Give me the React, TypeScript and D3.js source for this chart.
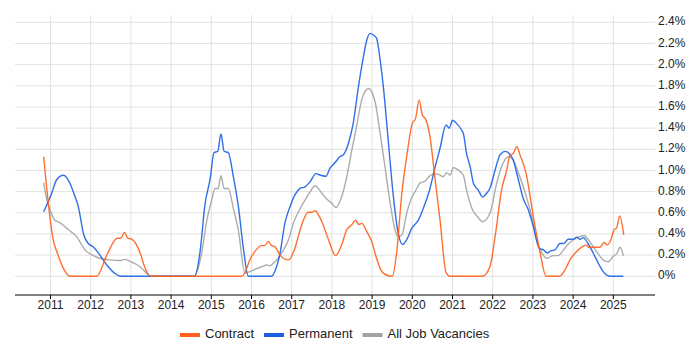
import { useEffect } from 'react';
import * as d3 from 'd3';

// tick labels
const yearTicks = [2011, 2012, 2013, 2014, 2015, 2016, 2017, 2018, 2019, 2020, 2021, 2022, 2023, 2024, 2025];
const pctTicks = [0, 0.2, 0.4, 0.6, 0.8, 1.0, 1.2, 1.4, 1.6, 1.8, 2.0, 2.2, 2.4];

// [year, % of vacancies]
const contract: [number, number][] = [
  [2010.83, 1.13], [2011.07, 0.34], [2011.17, 0.22], [2011.32, 0.075], [2011.49, 0],
  [2012.15, 0], [2012.4, 0.2], [2012.66, 0.36], [2012.75, 0.36], [2012.84, 0.415],
  [2012.92, 0.36], [2013.0, 0.355], [2013.25, 0.2], [2013.33, 0.1], [2013.5, 0],
  [2015.76, 0], [2016.0, 0.185], [2016.25, 0.29], [2016.33, 0.29], [2016.42, 0.33],
  [2016.5, 0.29], [2016.58, 0.28], [2016.71, 0.2], [2016.92, 0.155], [2017.08, 0.265],
  [2017.21, 0.44], [2017.41, 0.605], [2017.5, 0.605], [2017.58, 0.62], [2017.75, 0.515],
  [2017.93, 0.33], [2018.09, 0.195], [2018.24, 0.295], [2018.37, 0.44], [2018.49, 0.485],
  [2018.59, 0.53], [2018.67, 0.49], [2018.75, 0.5], [2018.87, 0.42], [2018.99, 0.33],
  [2019.11, 0.17], [2019.24, 0.045], [2019.4, 0.005], [2019.5, 0], [2019.61, 0.22],
  [2019.74, 0.785], [2019.86, 1.13], [2020.0, 1.445], [2020.08, 1.49], [2020.17, 1.665],
  [2020.25, 1.525], [2020.33, 1.485], [2020.44, 1.32], [2020.56, 0.94], [2020.69, 0.53],
  [2020.84, 0.035], [2020.94, 0],
  [2021.75, 0], [2021.93, 0.09], [2022.06, 0.375], [2022.22, 0.815], [2022.35, 1.005],
  [2022.43, 1.145], [2022.51, 1.16], [2022.6, 1.225], [2022.68, 1.145], [2022.83, 0.975],
  [2023.01, 0.565], [2023.18, 0.22], [2023.33, 0], [2023.66, 0], [2023.8, 0.06],
  [2023.92, 0.155], [2024.09, 0.235], [2024.21, 0.275], [2024.32, 0.295], [2024.38, 0.275],
  [2024.67, 0.275], [2024.77, 0.32], [2024.85, 0.295], [2024.94, 0.345], [2025.02, 0.44],
  [2025.08, 0.455], [2025.16, 0.57], [2025.26, 0.39],
];

const permanent: [number, number][] = [
  [2010.83, 0.61], [2011.03, 0.785], [2011.15, 0.91], [2011.32, 0.955], [2011.5, 0.865],
  [2011.58, 0.785], [2011.69, 0.66], [2011.83, 0.39], [2011.94, 0.31], [2012.06, 0.28],
  [2012.23, 0.2], [2012.4, 0.107], [2012.6, 0.028], [2012.75, 0],
  [2014.58, 0], [2014.72, 0.23], [2014.84, 0.67], [2014.97, 0.92], [2015.07, 1.17],
  [2015.16, 1.18], [2015.24, 1.345], [2015.32, 1.18], [2015.42, 1.17], [2015.55, 0.94],
  [2015.67, 0.67], [2015.8, 0.26], [2015.92, 0],
  [2016.5, 0], [2016.58, 0.045], [2016.71, 0.22], [2016.83, 0.5], [2016.96, 0.66],
  [2017.08, 0.77], [2017.21, 0.83], [2017.33, 0.845], [2017.46, 0.895], [2017.6, 0.97],
  [2017.72, 0.955], [2017.85, 0.945], [2017.95, 1.02], [2018.08, 1.075], [2018.2, 1.13],
  [2018.28, 1.145], [2018.41, 1.255], [2018.53, 1.445], [2018.66, 1.79], [2018.77, 2.045],
  [2018.87, 2.235], [2018.95, 2.295], [2019.03, 2.28], [2019.11, 2.25], [2019.2, 2.045],
  [2019.28, 1.79], [2019.4, 1.29], [2019.53, 0.75], [2019.65, 0.405], [2019.76, 0.3],
  [2019.86, 0.345], [2019.99, 0.455], [2020.15, 0.53], [2020.32, 0.69], [2020.44, 0.83],
  [2020.56, 1.02], [2020.69, 1.21], [2020.84, 1.43], [2020.92, 1.4], [2021.0, 1.475],
  [2021.1, 1.445], [2021.23, 1.38], [2021.27, 1.35], [2021.35, 1.16], [2021.44, 1.035],
  [2021.52, 0.88], [2021.64, 0.815], [2021.75, 0.75], [2021.85, 0.785], [2021.93, 0.83],
  [2022.06, 1.005], [2022.18, 1.145], [2022.31, 1.18], [2022.41, 1.16], [2022.51, 1.1],
  [2022.64, 0.91], [2022.76, 0.735], [2022.89, 0.625], [2023.01, 0.47], [2023.16, 0.265],
  [2023.26, 0.25], [2023.36, 0.22], [2023.44, 0.24], [2023.55, 0.25], [2023.67, 0.31],
  [2023.77, 0.31], [2023.88, 0.35], [2024.0, 0.35], [2024.09, 0.37], [2024.17, 0.35],
  [2024.25, 0.365], [2024.37, 0.31], [2024.5, 0.22], [2024.65, 0.107], [2024.77, 0.035],
  [2024.92, 0], [2025.25, 0],
];

const allJobs: [number, number][] = [
  [2010.83, 0.885], [2010.91, 0.72], [2010.99, 0.627], [2011.11, 0.53], [2011.24, 0.505],
  [2011.4, 0.455], [2011.53, 0.415], [2011.65, 0.375], [2011.78, 0.295], [2011.88, 0.24],
  [2012.0, 0.21], [2012.19, 0.175], [2012.48, 0.155], [2012.75, 0.15], [2012.84, 0.16],
  [2013.04, 0.13], [2013.23, 0.09], [2013.39, 0.028], [2013.5, 0],
  [2014.58, 0], [2014.76, 0.22], [2014.89, 0.53], [2015.01, 0.72], [2015.09, 0.83],
  [2015.17, 0.83], [2015.24, 0.95], [2015.32, 0.83], [2015.42, 0.83], [2015.55, 0.64],
  [2015.67, 0.44], [2015.84, 0.03], [2015.96, 0.045], [2016.09, 0.065], [2016.25, 0.09],
  [2016.38, 0.107], [2016.46, 0.1], [2016.54, 0.123], [2016.63, 0.155], [2016.75, 0.22],
  [2016.92, 0.345], [2017.04, 0.5], [2017.21, 0.64], [2017.33, 0.72], [2017.46, 0.8],
  [2017.58, 0.855], [2017.75, 0.785], [2017.87, 0.73], [2018.0, 0.69], [2018.1, 0.65],
  [2018.24, 0.75], [2018.37, 0.94], [2018.49, 1.18], [2018.62, 1.43], [2018.74, 1.665],
  [2018.82, 1.745], [2018.91, 1.775], [2018.99, 1.745], [2019.09, 1.62], [2019.2, 1.35],
  [2019.32, 1.035], [2019.45, 0.69], [2019.57, 0.44], [2019.65, 0.375], [2019.74, 0.39],
  [2019.86, 0.595], [2019.99, 0.75], [2020.07, 0.8], [2020.19, 0.88], [2020.32, 0.9],
  [2020.44, 0.95], [2020.56, 0.97], [2020.69, 0.955], [2020.77, 0.94], [2020.86, 0.98],
  [2020.94, 0.955], [2021.02, 1.025], [2021.14, 1.005], [2021.27, 0.955], [2021.35, 0.815],
  [2021.5, 0.627], [2021.62, 0.565], [2021.75, 0.515], [2021.93, 0.595], [2022.1, 0.88],
  [2022.22, 1.035], [2022.39, 1.13], [2022.51, 1.1], [2022.64, 0.975], [2022.8, 0.8],
  [2022.97, 0.565], [2023.09, 0.345], [2023.22, 0.225], [2023.34, 0.17], [2023.51, 0.195],
  [2023.63, 0.195], [2023.76, 0.25], [2023.88, 0.305], [2024.01, 0.345], [2024.13, 0.37],
  [2024.27, 0.385], [2024.38, 0.345], [2024.5, 0.28], [2024.65, 0.2], [2024.77, 0.148],
  [2024.88, 0.138], [2024.99, 0.185], [2025.09, 0.217], [2025.17, 0.274], [2025.25, 0.192],
];

const series = [
  { name: 'All Job Vacancies', data: allJobs, color: '#a3a3a3' },
  { name: 'Permanent', data: permanent, color: '#1a5fe6' },
  { name: 'Contract', data: contract, color: '#ff5f1a' },
];

const legendItems = [
  { name: 'Contract', color: '#ff5f1a', x: 180 },
  { name: 'Permanent', color: '#1a5fe6', x: 264 },
  { name: 'All Job Vacancies', color: '#a3a3a3', x: 362.5 },
];

const font = '"Liberation Sans", Arial, sans-serif';

export default function App() {
  useEffect(() => {
    document.body.style.margin = '0';
  }, []);

  const left = 15;
  const right = 655;
  const top = 15;
  const bottom = 295;

  const x = d3.scaleLinear().domain([2011, 2025]).range([50.5, 613.3]);
  const y = d3.scaleLinear().domain([0, 2.4]).range([276.3, 22.3]);

  const line = d3
    .line<[number, number]>()
    .x((d) => x(d[0]))
    .y((d) => y(d[1]))
    .curve(d3.curveMonotoneX);

  return (
    <svg width={700} height={350} style={{ display: 'block', background: '#fff' }}>
      {/* horizontal grid */}
      {pctTicks.map((t) => (
        <line key={'h' + t} x1={left} x2={right} y1={y(t)} y2={y(t)} stroke="#e2e2e2" strokeWidth={1} />
      ))}
      {/* vertical grid */}
      {yearTicks.map((t) => (
        <line key={'v' + t} x1={x(t)} x2={x(t)} y1={top} y2={bottom} stroke="#e2e2e2" strokeWidth={1} />
      ))}

      {series.map((s) => (
        <path
          key={s.name}
          d={line(s.data) || ''}
          fill="none"
          stroke={s.color}
          strokeWidth={1.4}
          strokeOpacity={0.9}
          strokeLinejoin="round"
        />
      ))}

      {/* x axis */}
      <line x1={left} x2={right} y1={bottom} y2={bottom} stroke="#000" strokeWidth={1} />
      {yearTicks.map((t) => (
        <g key={'xt' + t}>
          <line x1={x(t)} x2={x(t)} y1={bottom} y2={bottom + 4} stroke="#000" />
          <text
            x={x(t)}
            y={bottom + 11}
            textAnchor="middle"
            dominantBaseline="middle"
            fontFamily={font}
            fontSize={12}
            fill="#222"
          >
            {t}
          </text>
        </g>
      ))}

      {/* y labels on right */}
      {pctTicks.map((t) => (
        <text
          key={'yl' + t}
          x={658}
          y={y(t)}
          dominantBaseline="middle"
          fontFamily={font}
          fontSize={12}
          fill="#222"
        >
          {t === 0 ? '0%' : t.toFixed(1) + '%'}
        </text>
      ))}

      {/* legend */}
      {legendItems.map((l) => (
        <g key={'lg' + l.name}>
          <rect x={l.x} y={333} width={20} height={4} fill={l.color} />
          <text
            x={l.x + 25}
            y={335}
            dominantBaseline="middle"
            fontFamily={font}
            fontSize={13}
            fill="#222"
          >
            {l.name}
          </text>
        </g>
      ))}
    </svg>
  );
}
